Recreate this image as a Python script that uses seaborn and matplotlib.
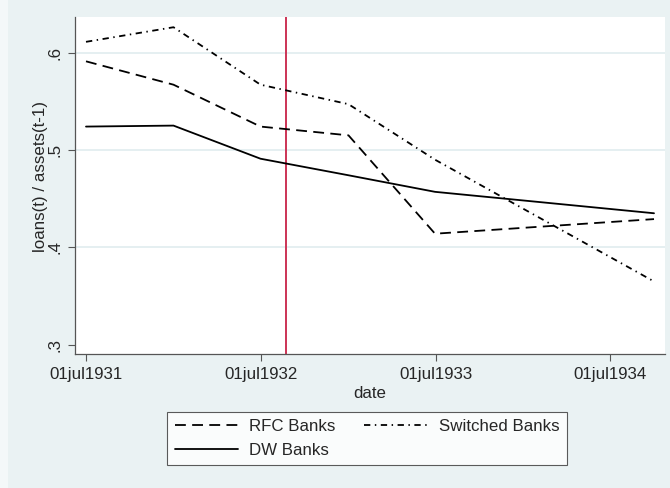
import matplotlib
matplotlib.use('Agg')
import matplotlib.pyplot as plt
import seaborn as sns
import pandas as pd

# call dates and loan ratios
dates = ['1931-07-01', '1931-12-31', '1932-06-30', '1932-12-31', '1933-06-30', '1934-10-01']
rfc = [0.591, 0.567, 0.524, 0.515, 0.414, 0.429]
dw = [0.524, 0.525, 0.491, 0.474, 0.457, 0.435]
switched = [0.611, 0.626, 0.567, 0.547, 0.490, 0.365]
event_date = '1932-08-22'
tick_dates = ['1931-07-01', '1932-07-01', '1933-07-01', '1934-07-01']
tick_labels = ['01jul1931', '01jul1932', '01jul1933', '01jul1934']
ytick_vals = [0.3, 0.4, 0.5, 0.6]
ytick_labels = ['.3', '.4', '.5', '.6']

bg = '#eaf2f3'
fs = 12.2

df = pd.concat([
    pd.DataFrame({'date': pd.to_datetime(dates), 'value': rfc, 'group': 'RFC Banks'}),
    pd.DataFrame({'date': pd.to_datetime(dates), 'value': dw, 'group': 'DW Banks'}),
    pd.DataFrame({'date': pd.to_datetime(dates), 'value': switched, 'group': 'Switched Banks'}),
])

sns.set_style('white')
plt.rcParams['font.family'] = ['Liberation Sans', 'DejaVu Sans']

fig = plt.figure(figsize=(6.7, 4.88), dpi=100, facecolor=bg)
# thin lighter strip on the left edge
fig.patches.append(plt.Rectangle((0, 0), 8 / 670, 1, transform=fig.transFigure,
                                 facecolor='#f4f8f9', edgecolor='none', zorder=0))
ax = fig.add_axes([75 / 670, 1 - 354 / 488, 590 / 670, 337 / 488])

ax.axvline(pd.Timestamp(event_date), color='#cc3355', lw=1.4, zorder=1)

sns.lineplot(data=df, x='date', y='value', style='group',
             style_order=['RFC Banks', 'DW Banks', 'Switched Banks'],
             dashes={'RFC Banks': (6, 3.5), 'DW Banks': '',
                     'Switched Banks': (3.5, 2.5, 0.8, 2.5)},
             color='black', lw=1.3, ax=ax, zorder=3)

ax.set_xlim(pd.Timestamp('1931-06-08'), pd.Timestamp('1934-10-24'))
ax.set_ylim(0.2905, 0.6365)

for v in [0.4, 0.5, 0.6]:
    ax.axhline(v, color='#e3eef0', lw=1.3, zorder=0)

ax.set_xticks(pd.to_datetime(tick_dates))
ax.set_xticklabels(tick_labels)
ax.set_yticks(ytick_vals)
ax.set_yticklabels(ytick_labels, rotation=90, va='center')

ax.tick_params(axis='both', direction='out', length=5, width=0.8, color='#555555',
               labelsize=fs, pad=4, left=True, bottom=True)
for s in ['top', 'right']:
    ax.spines[s].set_visible(False)
for s in ['left', 'bottom']:
    ax.spines[s].set_color('#555555')
    ax.spines[s].set_linewidth(0.9)

ax.set_xlabel('date', fontsize=fs, labelpad=3)
ax.set_ylabel('loans(t) / assets(t-1)', fontsize=fs)
ax.yaxis.set_label_coords(-0.046, 0.528)

handles, labels = ax.get_legend_handles_labels()
leg = ax.legend(handles, labels, ncol=2, loc='upper center',
                bbox_to_anchor=(0.495, -0.172), fontsize=fs,
                frameon=True, fancybox=False, edgecolor='#333333',
                handlelength=3.75, handletextpad=0.65, columnspacing=1.7,
                labelspacing=0.5, borderpad=0.42, borderaxespad=0)
leg.get_frame().set_linewidth(0.8)

fig.savefig('out.png', dpi=100, facecolor=bg)
